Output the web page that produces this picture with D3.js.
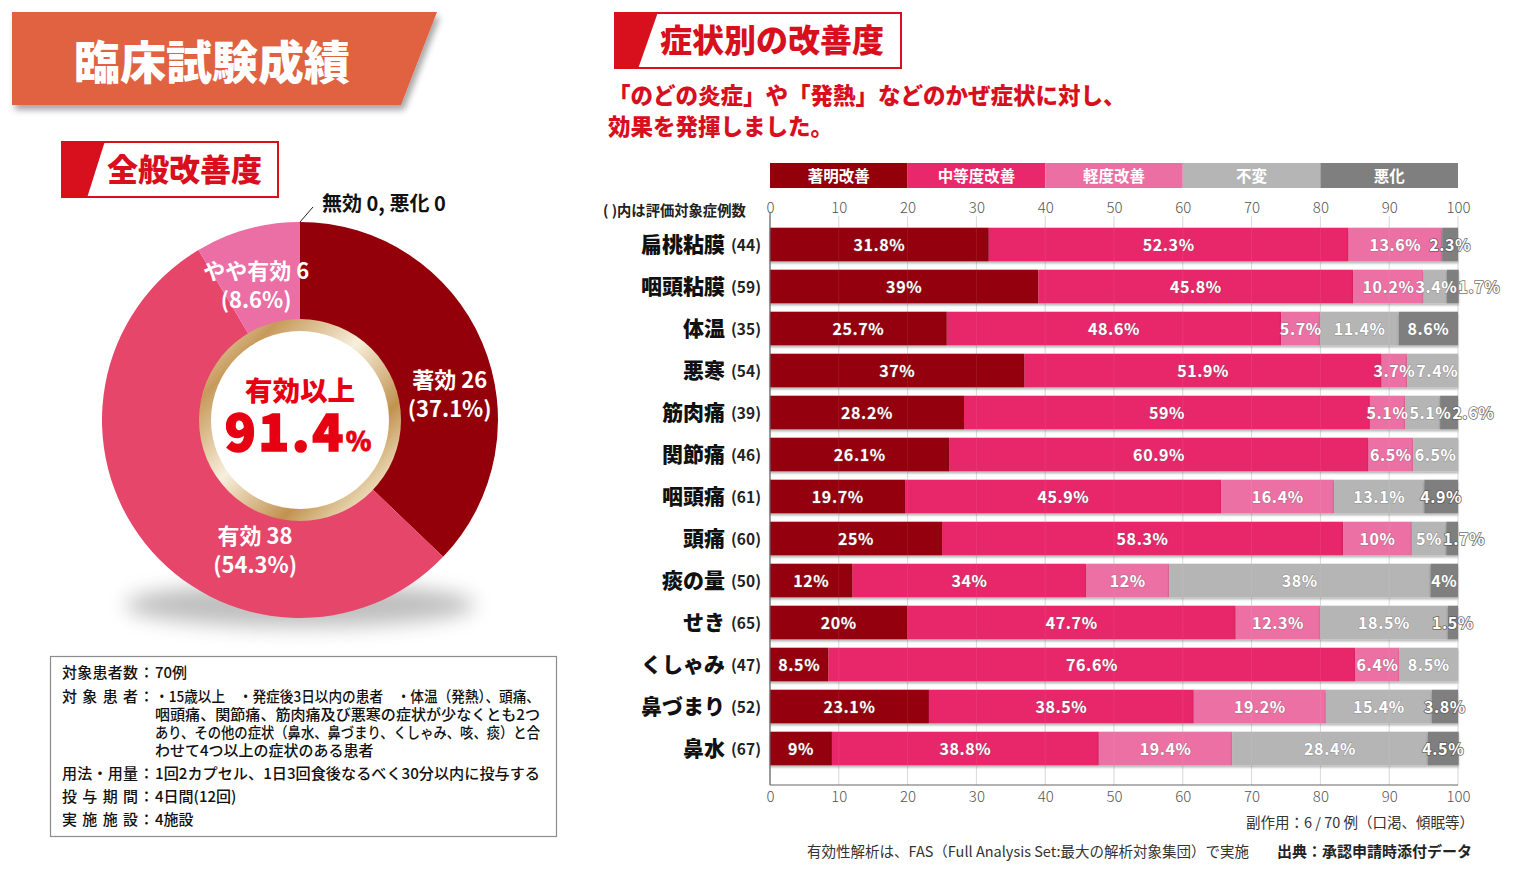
<!DOCTYPE html>
<html><head><meta charset="utf-8">
<script src="https://cdn.jsdelivr.net/npm/d3@7/dist/d3.min.js"></script>
<style>
html,body{margin:0;padding:0;background:#fff;}
svg{display:block;}
text{font-family:"Noto Sans CJK JP","Noto Sans",sans-serif;}
</style></head>
<body>
<svg id="chart" width="1521" height="872"></svg>
<script>
// ---------- DATA ----------
const pieLabels = ["著効", "有効", "やや有効"];
const pieCounts = [26, 38, 6];
const piePercents = [37.1, 54.3, 8.6];
const effectiveRate = "91.4";

const categories = ["扁桃粘膜","咽頭粘膜","体温","悪寒","筋肉痛","関節痛","咽頭痛","頭痛","痰の量","せき","くしゃみ","鼻づまり","鼻水"];
const caseCounts = [44,59,35,54,39,46,61,60,50,65,47,52,67];
const levels = ["著明改善","中等度改善","軽度改善","不変","悪化"];
const markedImprovement   = [31.8,39,25.7,37,28.2,26.1,19.7,25,12,20,8.5,23.1,9];
const moderateImprovement = [52.3,45.8,48.6,51.9,59,60.9,45.9,58.3,34,47.7,76.6,38.5,38.8];
const mildImprovement     = [13.6,10.2,5.7,3.7,5.1,6.5,16.4,10,12,12.3,6.4,19.2,19.4];
const unchanged           = [0,3.4,11.4,7.4,5.1,6.5,13.1,5,38,18.5,8.5,15.4,28.4];
const worsened            = [2.3,1.7,8.6,0,2.6,0,4.9,1.7,4,1.5,0,3.8,4.5];
const axisTicks = [0,10,20,30,40,50,60,70,80,90,100];

const infoRows = [
  ["対象患者数", ["70例"]],
  ["対象患者", ["・15歳以上　・発症後3日以内の患者　・体温（発熱）、頭痛、","咽頭痛、関節痛、筋肉痛及び悪寒の症状が少なくとも2つ","あり、その他の症状（鼻水、鼻づまり、くしゃみ、咳、痰）と合","わせて4つ以上の症状のある患者"]],
  ["用法・用量", ["1回2カプセル、1日3回食後なるべく30分以内に投与する"]],
  ["投与期間", ["4日間(12回)"]],
  ["実施施設", ["4施設"]]
];

// ---------- STYLE ----------
const levelColors = ["#940009","#e8286b","#ec6fa3","#b5b5b5","#7f7f7f"];
const pieColors = ["#940009","#e6466a","#eb6ea4"];
const RED = "#d8101d";
const JP = '"Noto Sans CJK JP",sans-serif';
const NUM = '"Liberation Sans",Arial,sans-serif';
const TICK = 'Roboto,"Noto Sans",sans-serif';

const svg = d3.select("#chart");
const defs = svg.append("defs");
const f1 = defs.append("filter").attr("id","bannerShadow").attr("x","-10%").attr("y","-10%").attr("width","130%").attr("height","140%");
f1.append("feDropShadow").attr("dx",3).attr("dy",5).attr("stdDeviation",3).attr("flood-color","#000").attr("flood-opacity",0.35);
const f2 = defs.append("filter").attr("id","barShadow").attr("x","-5%").attr("y","-20%").attr("width","110%").attr("height","160%");
f2.append("feDropShadow").attr("dx",0).attr("dy",2).attr("stdDeviation",1.2).attr("flood-color","#000").attr("flood-opacity",0.3);
const f3 = defs.append("filter").attr("id","blurShadow").attr("x","-50%").attr("y","-200%").attr("width","200%").attr("height","500%");
f3.append("feGaussianBlur").attr("stdDeviation",10);
const gold = defs.append("linearGradient").attr("id","gold").attr("x1","0").attr("y1","0").attr("x2","1").attr("y2","1");
[[0,"#f6ecd6"],[0.2,"#c79a5b"],[0.45,"#f7efdc"],[0.7,"#c1924f"],[0.85,"#e9d7b2"],[1,"#b88848"]].forEach(d=>gold.append("stop").attr("offset",d[0]).attr("stop-color",d[1]));

// ---------- TITLE BANNER ----------
svg.append("path").attr("d","M12,12 L437,12 L401,105 L12,105 Z").attr("fill","#e0623f").attr("filter","url(#bannerShadow)");
svg.append("text").attr("x",212).attr("y",79).attr("text-anchor","middle")
  .attr("font-family",JP).attr("font-weight",900).attr("font-size",46).attr("fill","#fff").text("臨床試験成績");

function sectionHeader(x, y, w, h, slant, label, fs){
  svg.append("rect").attr("x",x+1).attr("y",y+1).attr("width",w-2).attr("height",h-2).attr("fill","#fff").attr("stroke",RED).attr("stroke-width",2);
  svg.append("path").attr("d",`M${x},${y} L${x+slant[0]},${y} L${x+slant[1]},${y+h} L${x},${y+h} Z`).attr("fill",RED);
  svg.append("text").attr("x",x+slant[0]+2).attr("y",y+h/2+11).attr("font-family",JP).attr("font-weight",900)
    .attr("font-size",fs).attr("fill",RED).text(label);
}
sectionHeader(61,141,218,57,[44,26],"全般改善度",31);
sectionHeader(614,12,288,57,[44,24],"症状別の改善度",32);

svg.append("text").attr("x",608).attr("y",104).attr("font-family",JP).attr("font-weight",900).attr("font-size",22.5).attr("fill",RED)
  .text("「のどの炎症」や「発熱」などのかぜ症状に対し、");
svg.append("text").attr("x",608).attr("y",135).attr("font-family",JP).attr("font-weight",900).attr("font-size",22.5).attr("fill",RED)
  .text("効果を発揮しました。");

// ---------- DONUT ----------
const cx = 300, cy = 420, R = 198, r0 = 100;
svg.append("ellipse").attr("cx",cx).attr("cy",cy+185).attr("rx",175).attr("ry",22).attr("fill","#8a8a8a").attr("opacity",0.55).attr("filter","url(#blurShadow)");
const pie = d3.pie().sort(null).value(d=>d)(pieCounts);
const arc = d3.arc().innerRadius(r0).outerRadius(R);
const pg = svg.append("g").attr("transform",`translate(${cx},${cy})`);
pg.selectAll("path.slice").data(pie).join("path").attr("class","slice").attr("d",arc).attr("fill",(d,i)=>pieColors[i]);
pg.append("circle").attr("r",101).attr("fill","url(#gold)");
pg.append("circle").attr("r",89).attr("fill","#fff");
const labelPlace = [[80,152],[199,138],[342,142]];
pie.forEach((d,i)=>{
  const a = labelPlace[i][0]*Math.PI/180, rr = labelPlace[i][1];
  const lx = rr*Math.sin(a), ly = -rr*Math.cos(a);
  const t = pg.append("text").attr("text-anchor","middle").attr("font-family",JP).attr("font-weight",700).attr("font-size",22).attr("fill","#fff");
  t.append("tspan").attr("x",lx).attr("y",ly-6).text(`${pieLabels[i]} ${pieCounts[i]}`);
  t.append("tspan").attr("x",lx).attr("y",ly+23).text(`(${piePercents[i]}%)`);
});
pg.append("text").attr("text-anchor","middle").attr("y",-19).attr("font-family",JP).attr("font-weight",900).attr("font-size",27.5).attr("fill","#e60012").text("有効以上");
const big = pg.append("text").attr("x",-2).attr("text-anchor","middle").attr("y",31).attr("font-family",'"Noto Sans",Roboto,sans-serif').attr("font-weight",900).attr("font-size",51).attr("fill","#e60012")
  .attr("stroke","#e60012").attr("stroke-width",1.6).attr("letter-spacing",2.5);
big.append("tspan").text(effectiveRate);
big.append("tspan").attr("font-size",26).attr("letter-spacing",0).attr("stroke-width",0.8).text("%");
svg.append("line").attr("x1",cx).attr("y1",cy-R).attr("x2",cx+13).attr("y2",cy-R-15).attr("stroke","#222").attr("stroke-width",1);
svg.append("text").attr("x",322).attr("y",211).attr("font-family",JP).attr("font-weight",700).attr("font-size",20).attr("fill","#111").text("無効 0, 悪化 0");

// ---------- INFO BOX ----------
svg.append("rect").attr("x",50.5).attr("y",656.5).attr("width",506).attr("height",180).attr("fill","#fff").attr("stroke","#8c8c8c").attr("stroke-width",1.2);
const infoYs = [[678],[702,720,738,756],[779],[802],[825]];
const fullLineWidth = 385;
infoRows.forEach((row,i)=>{
  const chars = Array.from(row[0]);
  const fs = 15, lx0 = 62, lw = 76;
  const step = chars.length>1 ? (lw-fs)/(chars.length-1) : 0;
  chars.forEach((c,k)=>svg.append("text").attr("x",lx0+k*step).attr("y",infoYs[i][0]).attr("font-family",JP).attr("font-weight",500).attr("font-size",fs).attr("fill","#111").text(c));
  svg.append("text").attr("x",139).attr("y",infoYs[i][0]).attr("font-family",JP).attr("font-weight",500).attr("font-size",fs).attr("fill","#111").text("：");
  row[1].forEach((line,j)=>{
    const t = svg.append("text").attr("x",155).attr("y",infoYs[i][j]).attr("font-family",JP).attr("font-weight",500).attr("font-size",fs).attr("fill","#111").text(line);
    const full = row[1].length>1 ? j<row[1].length-1 : line.length>20;
    if (full) t.attr("textLength",fullLineWidth).attr("lengthAdjust","spacingAndGlyphs");
  });
});

// ---------- STACKED BARS ----------
const x = d3.scaleLinear().domain([0,100]).range([770,1458]);
const y = d3.scaleBand().domain(categories).range([223.5,769.5]).paddingInner(0.2).paddingOuter(0.1);
const table = categories.map((c,i)=>({cat:c, n:caseCounts[i],
  [levels[0]]:markedImprovement[i],[levels[1]]:moderateImprovement[i],[levels[2]]:mildImprovement[i],[levels[3]]:unchanged[i],[levels[4]]:worsened[i]}));
const series = d3.stack().keys(levels)(table);

const legendScale = d3.scaleBand().domain(levels).range([x(0),x(100)]);
const lg = svg.append("g");
lg.selectAll("rect").data(levels).join("rect").attr("x",d=>legendScale(d)).attr("y",163).attr("width",legendScale.bandwidth()).attr("height",25).attr("fill",(d,i)=>levelColors[i]);
lg.selectAll("text").data(levels).join("text").attr("x",d=>legendScale(d)+legendScale.bandwidth()/2).attr("y",181.5)
  .attr("text-anchor","middle").attr("font-family",JP).attr("font-weight",700).attr("font-size",15.5).attr("fill","#fff").text(d=>d);

const gridTop = 216, gridBottom = 785;
svg.append("g").selectAll("line").data(axisTicks).join("line")
  .attr("x1",d=>x(d)).attr("x2",d=>x(d)).attr("y1",gridTop).attr("y2",gridBottom).attr("stroke","#d6d6d6").attr("stroke-width",1);

const bg = svg.append("g");
series.forEach((s,si)=>{
  bg.append("g").attr("filter","url(#barShadow)").selectAll("rect").data(s.filter(d=>d[1]-d[0]>0)).join("rect")
    .attr("x",d=>x(d[0])).attr("y",d=>y(d.data.cat)).attr("width",d=>x(d[1])-x(d[0])).attr("height",y.bandwidth()).attr("fill",levelColors[si]);
});
svg.append("g").selectAll("line").data(axisTicks.slice(1,-1)).join("line")
  .attr("x1",d=>x(d)).attr("x2",d=>x(d)).attr("y1",gridTop).attr("y2",gridBottom).attr("stroke","#fff").attr("stroke-opacity",0.08);

// value labels with simple push-right collision avoidance per row
const vg = svg.append("g");
table.forEach((row,ri)=>{
  const items = [];
  series.forEach((s,si)=>{
    const d = s[ri];
    if (d[1]-d[0] > 0) items.push({c:x((d[0]+d[1])/2), v:row[levels[si]]});
  });
  const texts = items.map(it=>vg.append("text")
    .attr("y",y(row.cat)+y.bandwidth()/2+6)
    .attr("text-anchor","middle").attr("font-family",NUM).attr("font-weight",700).attr("font-size",16).attr("letter-spacing",0.6)
    .attr("fill","#fff").attr("stroke","#6f6f6f").attr("stroke-width",1).attr("stroke-opacity",0.5).attr("paint-order","stroke")
    .text(`${it.v}%`));
  let prevRight = -Infinity;
  items.forEach((it,k)=>{
    const w = texts[k].node().getComputedTextLength();
    let c = it.c;
    if (c - w/2 < prevRight + 1) c = prevRight + 1 + w/2;
    texts[k].attr("x",c);
    if (c + w/2 > x(100) + 3) texts[k].attr("stroke","#5a5a5a").attr("stroke-width",1.6).attr("stroke-opacity",0.85);
    prevRight = c + w/2;
  });
});

const axTop = svg.append("g").attr("transform",`translate(0,${gridTop})`).call(d3.axisTop(x).tickValues(axisTicks).tickSize(0).tickPadding(3).tickFormat(d3.format("d")));
const axBot = svg.append("g").attr("transform",`translate(0,${gridBottom})`).call(d3.axisBottom(x).tickValues(axisTicks).tickSize(0).tickPadding(6).tickFormat(d3.format("d")));
[axTop,axBot].forEach(a=>{
  a.select(".domain").remove();
  a.selectAll("text").attr("font-family",TICK).attr("font-size",15).attr("font-weight",300).attr("fill","#555");
});
svg.append("line").attr("x1",x(0)).attr("x2",x(100)).attr("y1",gridBottom).attr("y2",gridBottom).attr("stroke","#666").attr("stroke-width",1.2);
svg.append("line").attr("x1",x(0)).attr("x2",x(0)).attr("y1",gridTop-3).attr("y2",gridBottom).attr("stroke","#666").attr("stroke-width",1.2);

const cg = svg.append("g");
cg.selectAll("text.cat").data(table).join("text").attr("class","cat")
  .attr("x",725).attr("y",d=>y(d.cat)+y.bandwidth()/2+7).attr("text-anchor","end")
  .attr("font-family",JP).attr("font-weight",900).attr("font-size",21).attr("fill","#111").text(d=>d.cat);
cg.selectAll("text.n").data(table).join("text").attr("class","n")
  .attr("x",761).attr("y",d=>y(d.cat)+y.bandwidth()/2+6).attr("text-anchor","end")
  .attr("font-family",TICK).attr("font-weight",700).attr("font-size",15.5).attr("fill","#222").text(d=>`(${d.n})`);
svg.append("text").attr("x",603).attr("y",216).attr("font-family",JP).attr("font-weight",700).attr("font-size",14.3).attr("fill","#222").text("( )内は評価対象症例数");

svg.append("text").attr("x",1474).attr("y",828).attr("text-anchor","end").attr("font-family",JP).attr("font-size",14.5).attr("fill","#333").text("副作用：6 / 70 例（口渇、傾眠等）");
svg.append("text").attr("x",807).attr("y",857).attr("font-family",JP).attr("font-size",14.5).attr("fill","#333").text("有効性解析は、FAS（Full Analysis Set:最大の解析対象集団）で実施");
svg.append("text").attr("x",1472).attr("y",857).attr("text-anchor","end").attr("font-family",JP).attr("font-weight",700).attr("font-size",15).attr("fill","#222").text("出典：承認申請時添付データ");
</script>
</body></html>
